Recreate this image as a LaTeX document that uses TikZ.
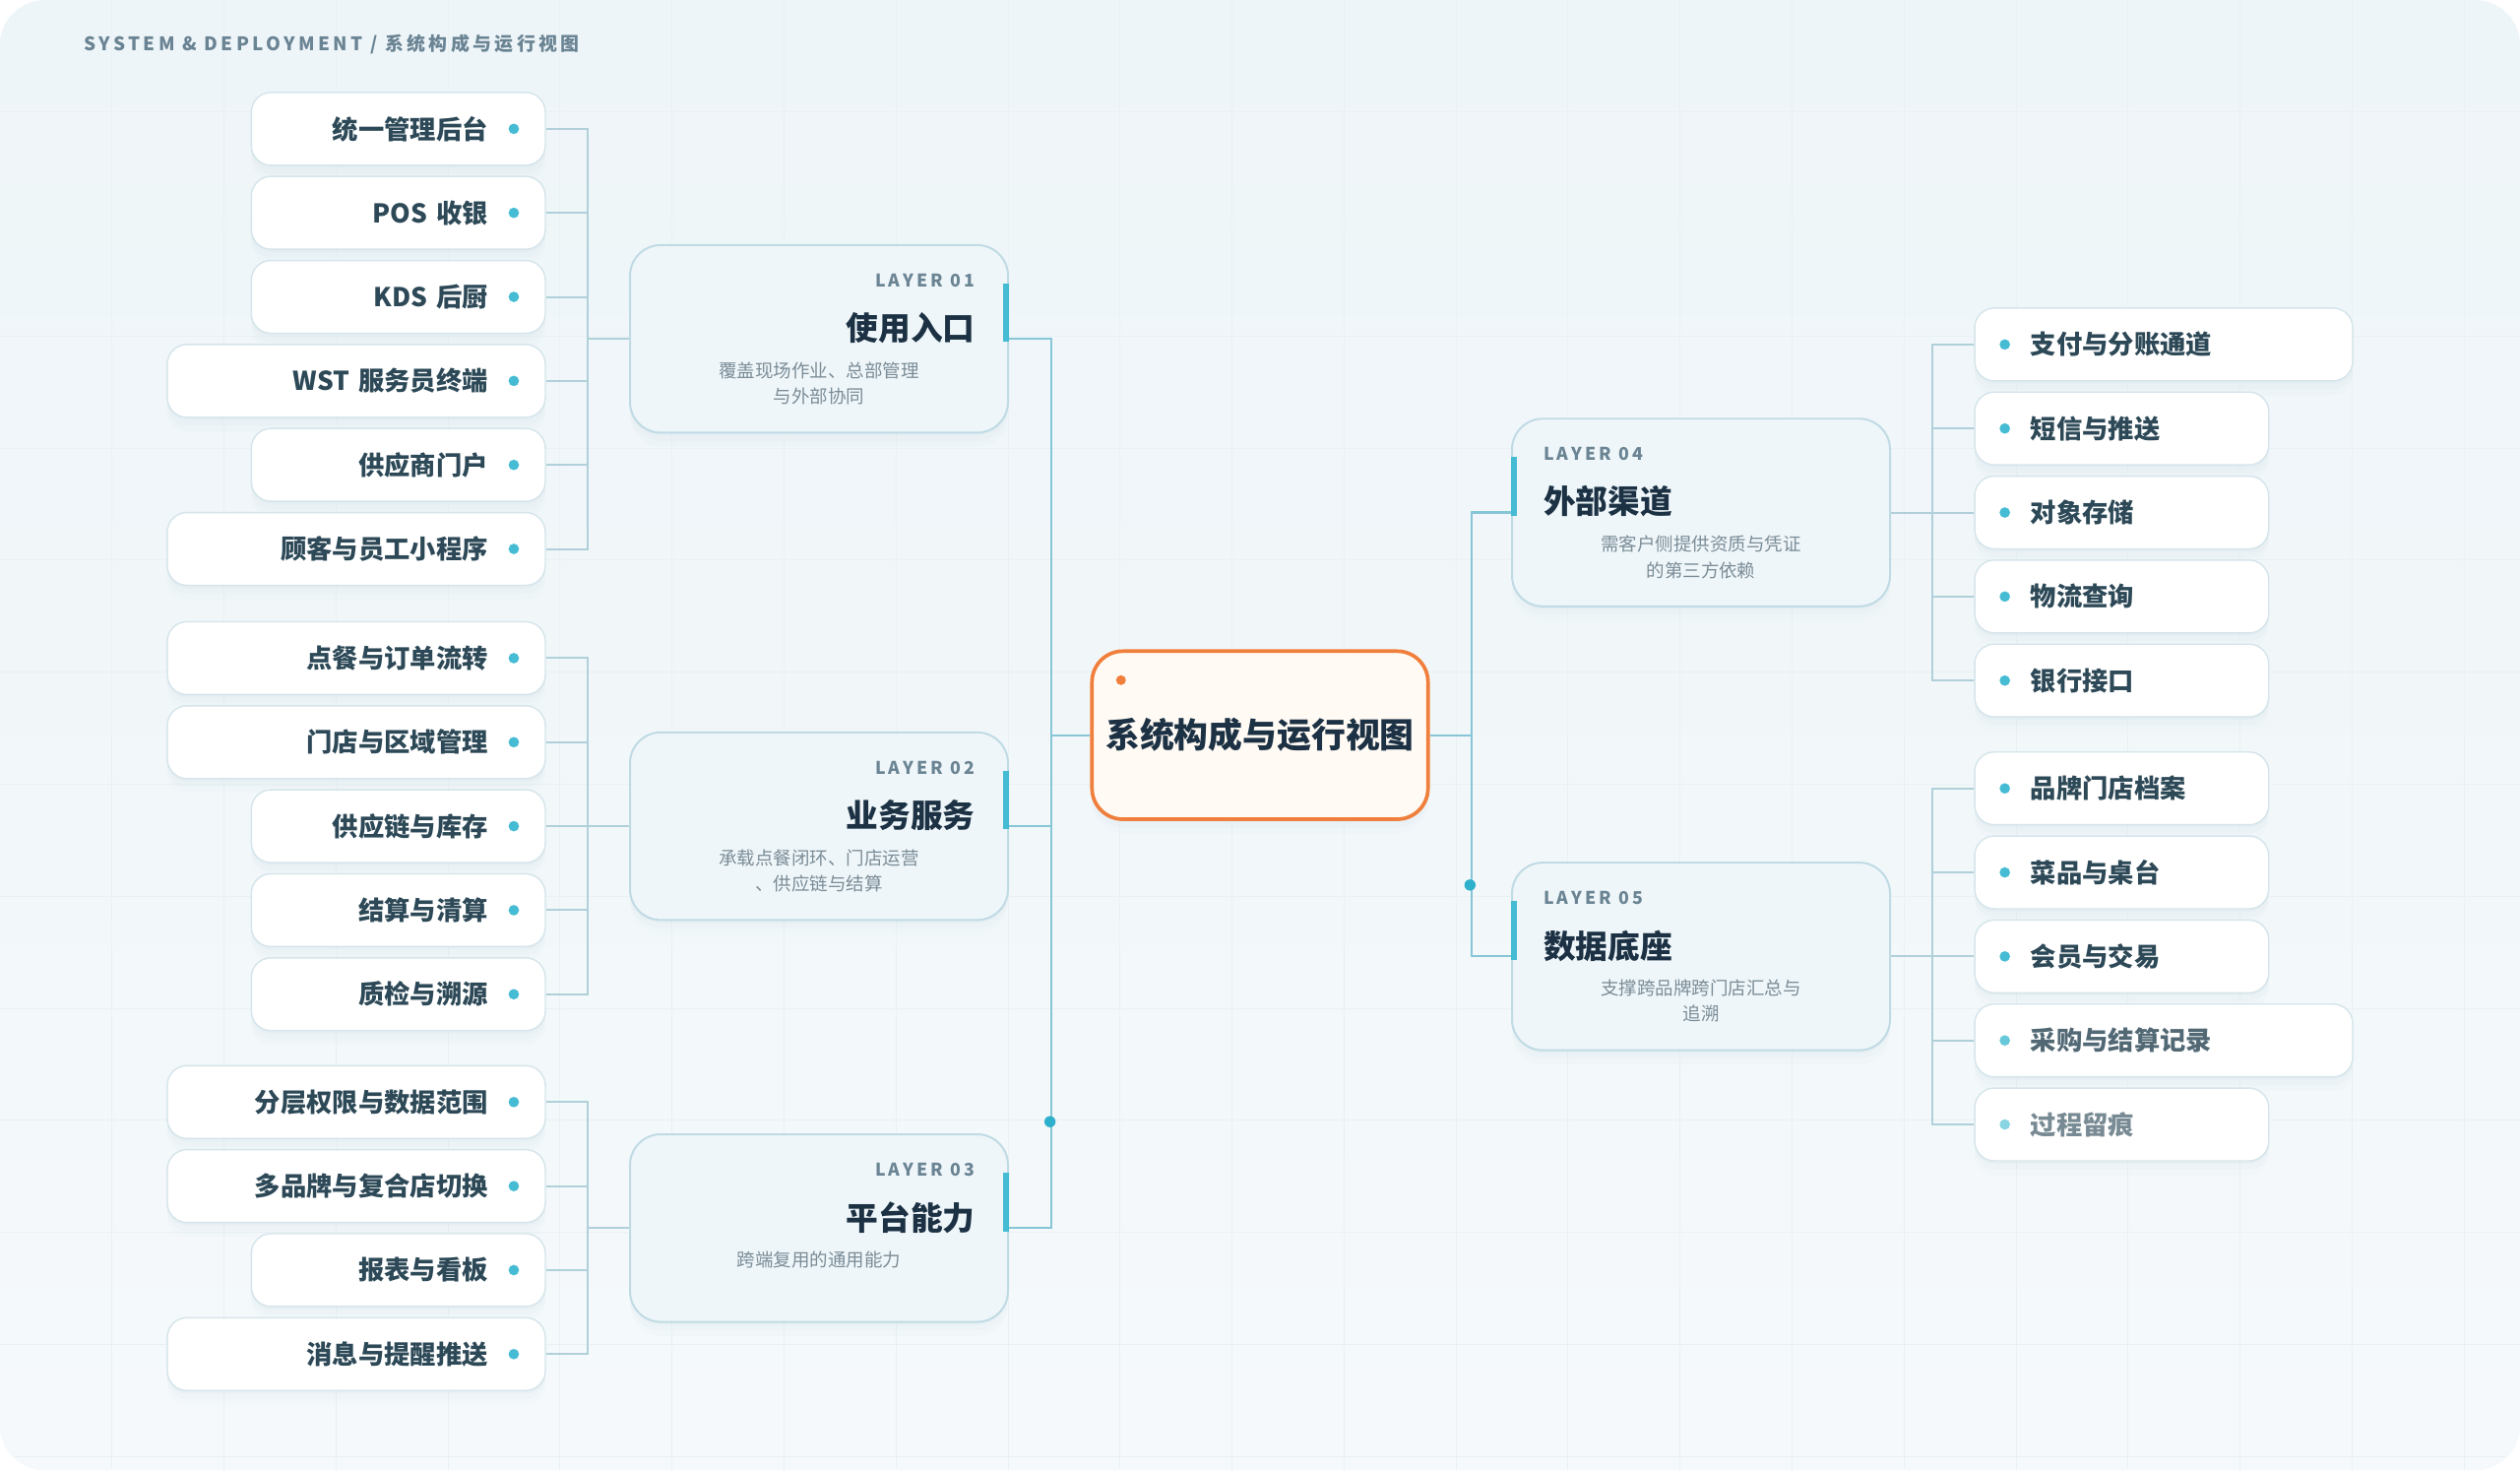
\documentclass[tikz,border=0pt]{standalone}
\usepackage{fontspec}
\setmainfont{Noto Sans CJK SC}
\newfontfamily\spacedfont{Noto Sans CJK SC}[LetterSpace=18]
\usetikzlibrary{positioning,shapes,calc,shadows}

\definecolor{bgtop}{HTML}{EEF5F8}
\definecolor{bgbot}{HTML}{F5F9FB}
\definecolor{gridc}{HTML}{E9F1F4}
\definecolor{ink}{HTML}{1C3244}
\definecolor{itemink}{HTML}{2D4957}
\definecolor{muted}{HTML}{7A8C97}
\definecolor{tagc}{HTML}{6A8494}
\definecolor{cyan1}{HTML}{45BCD3}
\definecolor{cyan2}{HTML}{2EAFCB}
\definecolor{linkc}{HTML}{B0D0DA}
\definecolor{corelink}{HTML}{86C6D7}
\definecolor{boxline}{HTML}{D5E5EB}
\definecolor{layerline}{HTML}{C0DBE4}
\definecolor{layerfill}{HTML}{EFF6F9}
\definecolor{orange1}{HTML}{F07F3C}
\definecolor{cream}{HTML}{FFFAF4}
\definecolor{shadowc}{HTML}{9FBFCC}

\tikzstyle{gridline} = [draw=gridc, line width=0.7pt]
\tikzstyle{soft} = [general shadow={shadow yshift=-2pt, fill=shadowc, opacity=.06},
                    general shadow={shadow yshift=-6pt, fill=shadowc, opacity=.04},
                    general shadow={shadow yshift=-10pt, fill=shadowc, opacity=.03}]
\tikzstyle{leaf} = [rectangle, rounded corners=14pt, draw=boxline, line width=1pt, fill=white, soft,
                    minimum height=52pt, inner ysep=0pt, text=itemink,
                    font=\bfseries\fontsize{18.5pt}{22pt}\selectfont]
\tikzstyle{leafL} = [leaf, anchor=east, align=right, inner xsep=41pt]
\tikzstyle{leafR} = [leaf, anchor=west, align=left, inner xsep=40pt]
\tikzstyle{bullet} = [circle, fill=cyan1, inner sep=0pt, minimum size=7.5pt]
\tikzstyle{layerbox} = [rectangle, rounded corners=22pt, draw=layerline, line width=1.4pt, fill=layerfill, soft,
                        minimum width=270pt, minimum height=134pt]
\tikzstyle{tag} = [inner sep=0pt, text=tagc, font=\spacedfont\bfseries\fontsize{12.5pt}{14pt}\selectfont]
\tikzstyle{headline} = [inner sep=0pt, text=ink, font=\bfseries\fontsize{23pt}{27pt}\selectfont]
\tikzstyle{desc} = [anchor=north, inner sep=0pt, align=center, text=muted, font=\fontsize{13pt}{18.5pt}\selectfont]
\tikzstyle{accentbar} = [draw=cyan1, line width=4pt]
\tikzstyle{corebox} = [rectangle, rounded corners=22pt, draw=orange1, line width=2.6pt, fill=cream, soft,
                       minimum width=240pt, minimum height=120pt, text=ink,
                       font=\bfseries\fontsize{24.5pt}{28pt}\selectfont]
\tikzstyle{spark} = [circle, fill=orange1, inner sep=0pt, minimum size=7pt]
\tikzstyle{link} = [draw=linkc, line width=1.4pt]
\tikzstyle{trunk} = [draw=corelink, line width=1.5pt]
\tikzstyle{junction} = [circle, fill=cyan2, inner sep=0pt, minimum size=8pt]

\begin{document}
\begin{tikzpicture}[x=1pt, y=-1pt]

    \useasboundingbox (0,0) rectangle (1800,1050);
    \shade[rounded corners=32pt, top color=bgtop, bottom color=bgbot] (0,0) rectangle (1800,1050);
    \begin{scope}
      \clip[rounded corners=32pt] (0,0) rectangle (1800,1050);
      \foreach \gx in {80,160,...,1760} \draw[gridline] (\gx,0) -- (\gx,1050);
      \foreach \gy in {80,160,...,1040} \draw[gridline] (0,\gy) -- (1800,\gy);
    \end{scope}

    \node[anchor=base west, inner sep=0pt, text=tagc, font=\spacedfont\bfseries\fontsize{13.3pt}{16pt}\selectfont]
      (caption) at (60,36) {SYSTEM \& DEPLOYMENT / 系统构成与运行视图};

    % layers
    \node[corebox] (core) at (900,525) {系统构成与运行视图};
    \node[spark] (coredot) at ($(core.north west)+(22,22)$) {};

    \node[layerbox] (L1) at (585,242) {};
    \node[layerbox] (L2) at (585,590) {};
    \node[layerbox] (L3) at (585,877) {};
    \node[layerbox] (L4) at (1215,366) {};
    \node[layerbox] (L5) at (1215,683) {};

    \node[tag, anchor=east] (L1tag) at ($(L1.north east)+(-24,26)$) {LAYER 01};
    \node[headline, anchor=east] (L1head) at ($(L1.north east)+(-24,60)$) {使用入口};
    \node[desc] (L1desc) at ($(L1.north)+(0,84)$) {覆盖现场作业、总部管理\\与外部协同};
    \draw[accentbar] ($(L1.north east)+(-2,28)$) -- ($(L1.north east)+(-2,70)$);

    \node[tag, anchor=east] (L2tag) at ($(L2.north east)+(-24,26)$) {LAYER 02};
    \node[headline, anchor=east] (L2head) at ($(L2.north east)+(-24,60)$) {业务服务};
    \node[desc] (L2desc) at ($(L2.north)+(0,84)$) {承载点餐闭环、门店运营\\、供应链与结算};
    \draw[accentbar] ($(L2.north east)+(-2,28)$) -- ($(L2.north east)+(-2,70)$);

    \node[tag, anchor=east] (L3tag) at ($(L3.north east)+(-24,26)$) {LAYER 03};
    \node[headline, anchor=east] (L3head) at ($(L3.north east)+(-24,60)$) {平台能力};
    \node[desc] (L3desc) at ($(L3.north)+(0,84)$) {跨端复用的通用能力};
    \draw[accentbar] ($(L3.north east)+(-2,28)$) -- ($(L3.north east)+(-2,70)$);

    \node[tag, anchor=west] (L4tag) at ($(L4.north west)+(23,26)$) {LAYER 04};
    \node[headline, anchor=west] (L4head) at ($(L4.north west)+(23,60)$) {外部渠道};
    \node[desc] (L4desc) at ($(L4.north)+(0,84)$) {需客户侧提供资质与凭证\\的第三方依赖};
    \draw[accentbar] ($(L4.north west)+(2,28)$) -- ($(L4.north west)+(2,70)$);

    \node[tag, anchor=west] (L5tag) at ($(L5.north west)+(23,26)$) {LAYER 05};
    \node[headline, anchor=west] (L5head) at ($(L5.north west)+(23,60)$) {数据底座};
    \node[desc] (L5desc) at ($(L5.north)+(0,84)$) {支撑跨品牌跨门店汇总与\\追溯};
    \draw[accentbar] ($(L5.north west)+(2,28)$) -- ($(L5.north west)+(2,70)$);

    % leaves
    \foreach \txt/\w [count=\i] in {统一管理后台/128, POS 收银/128, KDS 后厨/128, WST 服务员终端/188, 供应商门户/128, 顾客与员工小程序/188} {
      \node[leafL, text width=\w pt] (a\i) at (390,32+60*\i) {\txt};
      \node[bullet] (a\i b) at ($(a\i.east)+(-23,0)$) {};
    }
    \foreach \txt/\w [count=\i] in {点餐与订单流转/188, 门店与区域管理/188, 供应链与库存/128, 结算与清算/128, 质检与溯源/128} {
      \node[leafL, text width=\w pt] (b\i) at (390,410+60*\i) {\txt};
      \node[bullet] (b\i b) at ($(b\i.east)+(-23,0)$) {};
    }
    \foreach \txt/\w [count=\i] in {分层权限与数据范围/188, 多品牌与复合店切换/188, 报表与看板/128, 消息与提醒推送/188} {
      \node[leafL, text width=\w pt] (c\i) at (390,727+60*\i) {\txt};
      \node[bullet] (c\i b) at ($(c\i.east)+(-23,0)$) {};
    }
    \foreach \txt/\w [count=\i] in {支付与分账通道/190, 短信与推送/130, 对象存储/130, 物流查询/130, 银行接口/130} {
      \node[leafR, text width=\w pt] (d\i) at (1410,186+60*\i) {\txt};
      \node[bullet] (d\i b) at ($(d\i.west)+(22,0)$) {};
    }
    \foreach \txt/\w/\op [count=\i] in {品牌门店档案/130/1, 菜品与桌台/130/1, 会员与交易/130/1, 采购与结算记录/190/.82, 过程留痕/130/.64} {
      \node[leafR, text width=\w pt, text opacity=\op] (e\i) at (1410,503+60*\i) {\txt};
      \node[bullet, opacity=\op] (e\i b) at ($(e\i.west)+(22,0)$) {};
    }

    % connectors
    \draw[link] \foreach \i in {1,...,6} {(a\i.east) -- ++(30,0) |- (L1.west)};
    \draw[link] \foreach \i in {1,...,5} {(b\i.east) -- ++(30,0) |- (L2.west)};
    \draw[link] \foreach \i in {1,...,4} {(c\i.east) -- ++(30,0) |- (L3.west)};
    \draw[link] \foreach \i in {1,...,5} {(d\i.west) -- ++(-30,0) |- (L4.east)};
    \draw[link] \foreach \i in {1,...,5} {(e\i.west) -- ++(-30,0) |- (L5.east)};

    \draw[trunk] \foreach \n in {1,2,3} {(L\n.east) -- ++(30,0) |- (core.west)};
    \draw[trunk] \foreach \n in {4,5} {(core.east) -- ++(30,0) |- (L\n.west)};

    \node[junction] (pulseL) at (750,801) {};
    \node[junction] (pulseR) at (1050,632) {};

\end{tikzpicture}
\end{document}
